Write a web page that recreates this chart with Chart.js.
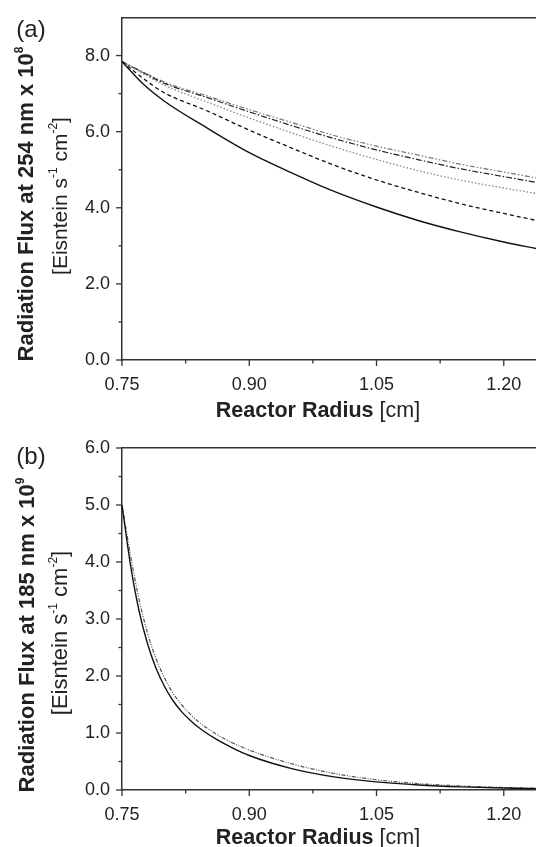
<!DOCTYPE html>
<html>
<head>
<meta charset="utf-8">
<script src="https://cdn.jsdelivr.net/npm/chart.js@4.4.1/dist/chart.umd.min.js"></script>
<style>
  body { margin: 0; background: #fff; width: 536px; height: 847px; position: relative; overflow: hidden;
         font-family: "Liberation Sans", Arial, sans-serif; color: #222; }
  canvas { position: absolute; left: 0; }
  .lbl { position: absolute; white-space: nowrap; line-height: 1; transform: translate(-50%, -50%); }
  .rot { transform: translate(-50%, -50%) rotate(-90deg); }
  .b { font-weight: bold; }
  sup { font-size: 12px; vertical-align: 0; position: relative; top: -10px; }
</style>
</head>
<body>
<canvas id="chartA" width="536" height="430" style="top:0"></canvas>
<canvas id="chartB" width="536" height="417" style="top:430px"></canvas>

<div class="lbl" style="left:31px;top:29px;font-size:24px">(a)</div>
<div class="lbl rot b" style="left:26px;top:204px;font-size:22px">Radiation Flux at 254 nm x 10<sup>8</sup></div>
<div class="lbl rot" style="left:59px;top:196px;font-size:21px">[Eisntein s<sup>-1</sup> cm<sup>-2</sup>]</div>
<div class="lbl" style="left:318px;top:411px;font-size:21.5px"><span class="b">Reactor Radius</span> [cm]</div>

<div class="lbl" style="left:31px;top:456px;font-size:24px">(b)</div>
<div class="lbl rot b" style="left:27px;top:635px;font-size:22px">Radiation Flux at 185 nm x 10<sup>9</sup></div>
<div class="lbl rot" style="left:60px;top:633px;font-size:22px">[Eisntein s<sup>-1</sup> cm<sup>-2</sup>]</div>
<div class="lbl" style="left:318px;top:838px;font-size:21.5px"><span class="b">Reactor Radius</span> [cm]</div>

<script>
// panel (a): 254 nm, five curves
const radiusA = [0.75, 0.775, 0.80, 0.85, 0.90, 0.95, 1.00, 1.05, 1.10, 1.15, 1.20, 1.24];
const fluxA1 = [7.84, 7.25, 6.80, 6.10, 5.45, 4.92, 4.43, 4.02, 3.66, 3.36, 3.10, 2.92];
const fluxA2 = [7.84, 7.40, 7.02, 6.55, 6.04, 5.57, 5.12, 4.73, 4.40, 4.10, 3.85, 3.66];
const fluxA3 = [7.84, 7.52, 7.22, 6.78, 6.36, 5.97, 5.60, 5.27, 4.97, 4.72, 4.52, 4.37];
const fluxA4 = [7.84, 7.55, 7.27, 6.90, 6.52, 6.16, 5.82, 5.52, 5.26, 5.02, 4.82, 4.66];
const fluxA5 = [7.84, 7.57, 7.30, 6.94, 6.58, 6.24, 5.90, 5.62, 5.38, 5.14, 4.94, 4.78];

// panel (b): 185 nm, two curves
const radiusB = [0.75, 0.76, 0.77, 0.78, 0.79, 0.80, 0.81, 0.82, 0.83, 0.84, 0.86, 0.88, 0.90, 0.95, 1.00, 1.05, 1.10, 1.15, 1.20, 1.24];
const fluxB1 = [5.00, 3.95, 3.15, 2.57, 2.14, 1.82, 1.57, 1.38, 1.23, 1.10, 0.90, 0.74, 0.605, 0.375, 0.23, 0.142, 0.088, 0.055, 0.034, 0.024];
const fluxB2 = [5.00, 4.12, 3.35, 2.76, 2.31, 1.97, 1.70, 1.50, 1.34, 1.20, 0.99, 0.83, 0.70, 0.46, 0.29, 0.18, 0.112, 0.07, 0.044, 0.032];

// ticks
const xTicks = [0.75, 0.825, 0.90, 0.975, 1.05, 1.125, 1.20];
const xLabels = ["0.75", "", "0.90", "", "1.05", "", "1.20"];
const yTicksA = [0, 1, 2, 3, 4, 5, 6, 7, 8];
const yLabelsA = ["0.0", "", "2.0", "", "4.0", "", "6.0", "", "8.0"];
const yTicksB = [0, 0.5, 1, 1.5, 2, 2.5, 3, 3.5, 4, 4.5, 5, 5.5, 6];
const yLabelsB = ["0.0", "", "1.0", "", "2.0", "", "3.0", "", "4.0", "", "5.0", "", "6.0"];

const axisColor = "#333";
const font = { family: "'Liberation Sans', Arial, sans-serif", size: 18 };

// draws outward tick marks, long for labelled ticks, short for the others
const tickMarks = {
	id: "tickMarks",
	afterDraw(chart) {
		const { ctx } = chart;
		const x = chart.scales.x;
		const y = chart.scales.y;
		ctx.save();
		ctx.strokeStyle = axisColor;
		ctx.lineWidth = 1.3;
		x.ticks.forEach((t) => {
			const px = x.getPixelForValue(t.value);
			const len = t.label ? 6 : 3.5;
			ctx.beginPath();
			ctx.moveTo(px, x.top);
			ctx.lineTo(px, x.top + len);
			ctx.stroke();
		});
		y.ticks.forEach((t) => {
			const py = y.getPixelForValue(t.value);
			const len = t.label ? 6 : 3.5;
			ctx.beginPath();
			ctx.moveTo(y.right, py);
			ctx.lineTo(y.right - len, py);
			ctx.stroke();
		});
		ctx.restore();
	},
};

function line(radius, flux, color, dash, width) {
	return {
		data: radius.map((r, i) => ({ x: r, y: flux[i] })),
		borderColor: color,
		borderDash: dash,
		borderWidth: width,
		pointRadius: 0,
		fill: false,
		cubicInterpolationMode: "monotone",
	};
}

function makeChart(id, datasets, yMax, yTicks, yLabels, padTop, xHeight) {
	return new Chart(document.getElementById(id), {
		type: "line",
		data: { datasets },
		options: {
			responsive: false,
			animation: false,
			layout: { padding: { top: padTop, right: 0, left: 0, bottom: 0 } },
			plugins: { legend: { display: false }, tooltip: { enabled: false } },
			scales: {
				x: {
					type: "linear",
					min: 0.75,
					max: 1.238,
					afterBuildTicks: (s) => { s.ticks = xTicks.map((v) => ({ value: v })); },
					afterFit: (s) => { s.height = xHeight; },
					ticks: {
						autoSkip: false,
						maxRotation: 0,
						padding: 8,
						color: "#222",
						font,
						callback: (v) => xLabels[xTicks.findIndex((t) => Math.abs(t - v) < 1e-6)],
					},
					grid: { display: false, drawTicks: true, tickLength: 6 },
					border: { display: true, color: axisColor, width: 1.5 },
				},
				x2: {
					type: "linear",
					position: "top",
					ticks: { display: false },
					grid: { display: false, drawTicks: false },
					border: { display: true, color: axisColor, width: 1.5 },
					afterFit: (s) => { s.height = 0; },
				},
				y: {
					min: 0,
					max: yMax,
					afterBuildTicks: (s) => { s.ticks = yTicks.map((v) => ({ value: v })); },
					afterFit: (s) => { s.width = 122; },
					ticks: {
						autoSkip: false,
						padding: 6,
						color: "#222",
						font,
						callback: (v) => yLabels[yTicks.findIndex((t) => Math.abs(t - v) < 1e-6)],
					},
					grid: { display: false, drawTicks: true, tickLength: 6 },
					border: { display: true, color: axisColor, width: 1.5 },
				},
			},
		},
		plugins: [tickMarks],
	});
}

makeChart("chartA", [
	line(radiusA, fluxA1, "#111", [], 1.4),
	line(radiusA, fluxA2, "#111", [4, 3], 1.3),
	line(radiusA, fluxA3, "#888", [1.5, 2], 1.3),
	line(radiusA, fluxA4, "#222", [6, 2, 1.5, 2], 1.2),
	line(radiusA, fluxA5, "#777", [5, 2, 1.5, 2, 1.5, 2], 1.2),
], 9, yTicksA, yLabelsA, 17.5, 70);

makeChart("chartB", [
	line(radiusB, fluxB1, "#111", [], 1.4),
	line(radiusB, fluxB2, "#555", [4, 1.5, 1, 1.5, 1, 1.5], 1.2),
], 6, yTicksB, yLabelsB, 18, 57);
</script>
</body>
</html>
